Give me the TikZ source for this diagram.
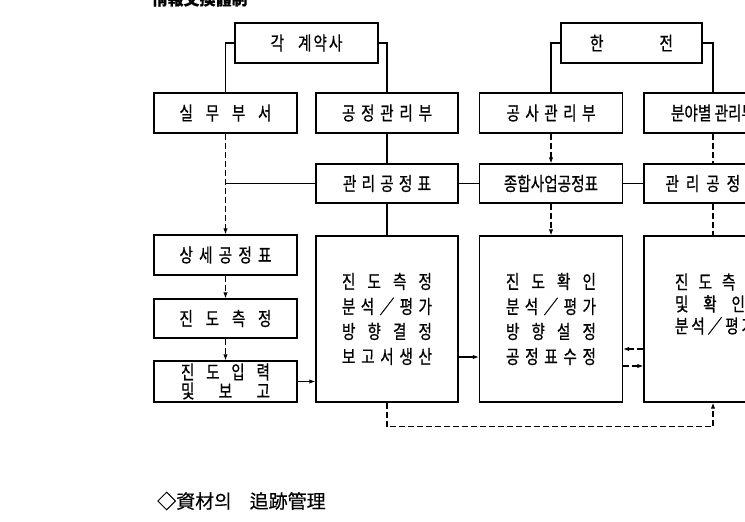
\documentclass[tikz,border=0pt]{standalone}
\usepackage{fontspec}
\usetikzlibrary{arrows.meta,calc}
\newfontfamily\kr[FakeStretch=0.77,FakeBold=0.6]{Noto Sans CJK KR}
\newfontfamily\krn[FakeBold=0.4]{Noto Sans CJK KR}
\newcommand\spr[2]{\makebox[#1pt][s]{#2}}
\begin{document}
\begin{tikzpicture}[x=1pt,y=-1pt,
  box/.style={draw, line width=1.4pt, inner sep=0pt, minimum height=40pt, align=center,
              font=\kr\fontsize{19}{20}\selectfont},
  bigbox/.style={box, minimum height=166pt, font=\kr\fontsize{19}{25}\selectfont},
  ln/.style={line width=1.1pt},
  dsh/.style={line width=1.1pt, dash pattern=on 6pt off 3pt},
  arr/.style={-{Latex[length=6pt,width=4.5pt]}}]
\useasboundingbox (0,0) rectangle (745,522);
\fill[white] (0,0) rectangle (745,522);

% headings
\node[font=\krn\bfseries\fontsize{16}{18}\selectfont, anchor=base, inner sep=0pt] (head) at (199.5,5) {情報交換體制};
\node[font=\krn\fontsize{19}{20}\selectfont, anchor=west, inner sep=0pt] (title) at (157,501) {◇資材의\hspace{18pt}追跡管理};

% top row
\node[box, minimum width=143pt] (kyeyak) at (306.5,43) {각\hspace{14pt}계\hspace{2pt}약\hspace{2pt}사};
\node[box, minimum width=141pt] (hanjeon) at (631.5,43) {\spr{83}{한\hfill 전}};

% second row
\node[box, minimum width=143pt] (silmu) at (225.5,113) {\spr{92}{실\hfill 무\hfill 부\hfill 서}};
\node[box, minimum width=142pt] (gongjeong) at (387,113) {\spr{90}{공\hfill 정\hfill 관\hfill 리\hfill 부}};
\node[box, minimum width=143pt] (gongsa) at (551,113) {\spr{89}{공\hfill 사\hfill 관\hfill 리\hfill 부}};
\node[box, minimum width=138pt] (bunya) at (713,113) {분야별 관리부};

% third row
\node[box, minimum width=142pt, minimum height=39pt] (gwanri1) at (387,183.5) {\spr{88}{관\hfill 리\hfill 공\hfill 정\hfill 표}};
\node[box, minimum width=143pt, minimum height=39pt] (jonghap) at (551,183.5) {종합사업공정표};
\node[box, minimum width=138pt, minimum height=39pt] (gwanri2) at (713,183.5) {\spr{95}{관\hfill 리\hfill 공\hfill 정\hfill 표}};

% left column
\node[box, minimum width=143pt] (sangse) at (225.5,255) {\spr{92}{상\hfill 세\hfill 공\hfill 정\hfill 표}};
\node[box, minimum width=143pt, minimum height=39pt] (jindo) at (225.5,318.5) {\spr{92}{진\hfill 도\hfill 측\hfill 정}};
\node[box, minimum width=143pt, minimum height=41pt, font=\kr\fontsize{19}{19}\selectfont] (ipryeok) at (225.5,381.5)
  {\spr{89}{진\hfill 도\hfill 입\hfill 력}\\\spr{89}{및\hfill 보\hfill 고}};

% big boxes
\node[bigbox, minimum width=142pt] (big1) at (387,319)
  {\spr{90}{진\hfill 도\hfill 측\hfill 정}\\\spr{90}{분\hfill 석\hfill ／\hfill 평\hfill 가}\\
   \spr{90}{방\hfill 향\hfill 결\hfill 정}\\\spr{90}{보\hfill 고\hfill 서\hfill 생\hfill 산}};
\node[bigbox, minimum width=143pt] (big2) at (551,319)
  {\spr{90}{진\hfill 도\hfill 확\hfill 인}\\\spr{90}{분\hfill 석\hfill ／\hfill 평\hfill 가}\\
   \spr{90}{방\hfill 향\hfill 설\hfill 정}\\\spr{90}{공\hfill 정\hfill 표\hfill 수\hfill 정}};
\node[bigbox, minimum width=138pt] (big3) at (713,319) {};
\node[inner sep=0pt, align=left, font=\kr\fontsize{19}{22}\selectfont] (big3t) at (717,304)
  {\spr{84}{진\hfill 도\hfill 측\hfill 정}\\\spr{70}{및\hfill 확\hfill 인}\\\spr{80}{분\hfill 석\hfill ／\hfill 평\hfill 가}};

% connectors
\draw[ln] (kyeyak.west) -| (silmu.north);
\draw[ln] (kyeyak.east) -| (gongjeong.north);
\draw[ln] (hanjeon.west) -| (gongsa.north);
\draw[ln] (hanjeon.east) -| (bunya.north);

\draw[dsh,arr] (silmu.south) -- (sangse.north);
\coordinate (tj) at (silmu.south |- gwanri1.west);
\draw[ln] (tj) -- (gwanri1.west);
\draw[ln] (gongjeong.south) -- (gwanri1.north);
\draw[ln] (gwanri1.south) -- (big1.north);
\draw[ln] (gwanri1.east) -- (jonghap.west);
\draw[ln] (jonghap.east) -- (gwanri2.west);
\draw[dsh,arr] (gongsa.south) -- (jonghap.north);
\draw[dsh,arr] (jonghap.south) -- (big2.north);
\draw[dsh] (bunya.south) -- (gwanri2.north);
\draw[dsh] (gwanri2.south) -- (big3.north);

\draw[dsh,arr] (sangse.south) -- (jindo.north);
\draw[dsh,arr] (jindo.south) -- (ipryeok.north);
\draw[ln,arr] (ipryeok.east) -- (ipryeok.east -| big1.west);
\draw[ln,arr] ($(big1.east)+(0,38)$) -- ($(big2.west)+(0,38)$);
\draw[dsh,arr] ($(big3.west)+(0,30)$) -- ($(big2.east)+(0,30)$);
\draw[dsh,arr] ($(big2.east)+(0,47)$) -- ($(big3.west)+(0,47)$);
\draw[dsh,arr] (big1.south) -- ++(0,24) -| (big3.south);
\end{tikzpicture}
\end{document}
